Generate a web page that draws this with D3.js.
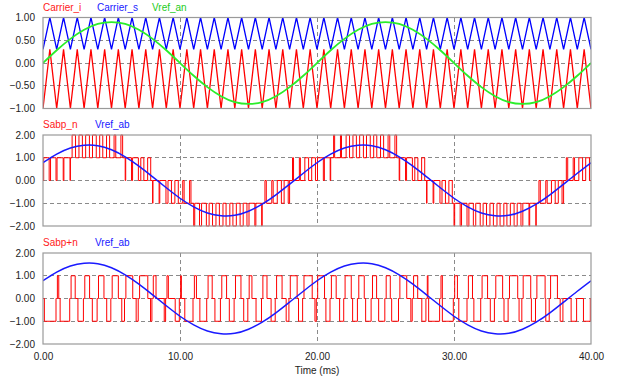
<!DOCTYPE html>
<html>
<head>
<meta charset="utf-8">
<script src="https://cdn.jsdelivr.net/npm/d3@7"></script>
<style>
  body { margin: 0; background: #fff; }
  text { font-family: "Liberation Sans", Arial, sans-serif; font-size: 10px; }
</style>
</head>
<body>
<svg id="chart" width="619" height="381"></svg>
<script>
// sample times (ms) for the reference sine waves
var timeMs = [0,1,2,3,4,5,6,7,8,9,10,11,12,13,14,15,16,17,18,19,20,
              21,22,23,24,25,26,27,28,29,30,31,32,33,34,35,36,37,38,39,40];
var vrefAn = [0,.28,.53,.73,.86,.9,.86,.73,.53,.28,0,-.28,-.53,-.73,-.86,-.9,-.86,-.73,-.53,-.28,
              0,.28,.53,.73,.86,.9,.86,.73,.53,.28,0,-.28,-.53,-.73,-.86,-.9,-.86,-.73,-.53,-.28,0];
var vrefAb = [.78,1.16,1.43,1.55,1.53,1.35,1.04,.63,.16,-.32,-.78,-1.16,-1.43,-1.55,-1.53,-1.35,-1.04,-.63,-.16,.32,
              .78,1.16,1.43,1.55,1.53,1.35,1.04,.63,.16,-.32,-.78,-1.16,-1.43,-1.55,-1.53,-1.35,-1.04,-.63,-.16,.32,.78];

// triangle carriers: [trough, peak], one period per ms
var carrierI = [-1, 0.3];
var carrierS = [0.3, 1];
var carrierPeriod = 1;

// Sabp_n : lower level of each 1 ms period and share of time spent one level higher
var sabpNLow  = [0,0,1,1,1,1,0,0,-1,-1, -1,-2,-2,-2,-2,-2,-1,-1,0,0,
                 0,1,1,1,1,1,0,0,-1,-1, -2,-2,-2,-2,-2,-2,-1,-1,0,0];
var sabpNDuty = [.8,.9,.5,.55,.45,.25,.85,.45,.9,.5, .2,.7,.5,.45,.55,.85,.2,.6,.15,.55,
                 .85,.15,.5,.55,.45,.25,.85,.45,.9,.5, .8,.65,.5,.45,.55,.9,.2,.55,.2,.55];

// Sabp+n : share of each period at +1 and at -1 (rest at 0)
var sabpPnPos = [0,.1,.3,.35,.4,.45,.5,.6,.2,.1, .05,.15,.3,.35,.4,.2,.3,.4,.5,.6,
                 .5,.35,.45,.4,.3,.3,.5,.3,.05,.1, .2,.3,.4,.5,.6,.55,.6,.5,0,0];
var sabpPnNeg = [.85,.7,.4,.35,.3,.2,.15,.1,.1,.3, .6,.5,.4,.35,.3,.4,.3,.2,.3,.1,
                 .3,.3,.35,.4,.45,.5,.1,.3,.8,.8, .6,.5,.3,.3,.2,.3,.25,.2,.4,.5];

var xTicks = [0, 10, 20, 30, 40];
var yTicks1 = [-1, -0.5, 0, 0.5, 1];
var yTicks2 = [-2, -1, 0, 1, 2];

var svg = d3.select("#chart");
var left = 43, right = 591;
var xScale = d3.scaleLinear().domain([0, 40]).range([left, right]);
var fmt = d3.format(".2f");

var panels = [
  {id: "p1", top: 17.5, bottom: 108.5, domain: [-1, 1], ticks: yTicks1},
  {id: "p2", top: 135, bottom: 226, domain: [-2, 2], ticks: yTicks2},
  {id: "p3", top: 253, bottom: 344, domain: [-2, 2], ticks: yTicks2}
];

panels.forEach(function(p) {
  p.y = d3.scaleLinear().domain(p.domain).range([p.bottom, p.top]);

  svg.append("clipPath").attr("id", "clip-" + p.id)
    .append("rect").attr("x", left).attr("y", p.top - 1)
    .attr("width", right - left).attr("height", p.bottom - p.top + 2);

  // dashed grid
  var grid = svg.append("g").attr("stroke", "#8a8a8a").attr("stroke-dasharray", "4,3")
    .attr("shape-rendering", "crispEdges");
  p.ticks.slice(1, -1).forEach(function(v) {
    grid.append("line").attr("x1", left).attr("x2", right)
      .attr("y1", p.y(v)).attr("y2", p.y(v));
  });
  xTicks.slice(1, -1).forEach(function(t) {
    grid.append("line").attr("x1", xScale(t)).attr("x2", xScale(t))
      .attr("y1", p.top).attr("y2", p.bottom);
  });

  var ax = svg.append("g").attr("transform", "translate(" + left + ",0)")
    .call(d3.axisLeft(p.y).tickValues(p.ticks).tickSize(0).tickPadding(8).tickFormat(fmt));
  ax.select(".domain").remove();
  ax.selectAll("text").attr("fill", "#222").style("font-family", '"Liberation Sans", Arial, sans-serif').style("font-size", "10px");

  p.g = svg.append("g").attr("clip-path", "url(#clip-" + p.id + ")");
});

function curvePath(vals, yS, curve) {
  return d3.line().x(function(d, i) { return xScale(timeMs[i]); })
    .y(function(d) { return yS(d); }).curve(curve)(vals);
}

// carriers
function carrierPoints(levels) {
  return d3.range(0, 40 / carrierPeriod * 2 + 1).map(function(i) {
    return [i * carrierPeriod / 2, levels[i % 2]];
  });
}
var p1 = panels[0], p2 = panels[1], p3 = panels[2];
var lineXY = function(yS, curve) {
  return d3.line().x(function(d) { return xScale(d[0]); }).y(function(d) { return yS(d[1]); }).curve(curve);
};

p1.g.append("path").attr("d", lineXY(p1.y, d3.curveLinear)(carrierPoints(carrierI)))
  .attr("fill", "none").attr("stroke", "#ff0000").attr("stroke-width", 1.3);
p1.g.append("path").attr("d", lineXY(p1.y, d3.curveLinear)(carrierPoints(carrierS)))
  .attr("fill", "none").attr("stroke", "#0000ff").attr("stroke-width", 1.3);
p1.g.append("path").attr("d", curvePath(vrefAn, p1.y, d3.curveNatural))
  .attr("fill", "none").attr("stroke", "#2aee2a").attr("stroke-width", 1.8);

// Sabp_n step trace
var stepsN = [];
sabpNLow.forEach(function(lo, k) {
  var w = sabpNDuty[k] / 2;
  stepsN.push([k, lo], [k + 0.25 - w / 2, lo + 1], [k + 0.25 + w / 2, lo],
              [k + 0.75 - w / 2, lo + 1], [k + 0.75 + w / 2, lo]);
});
stepsN.push([40, stepsN[stepsN.length - 1][1]]);
p2.g.append("path").attr("d", lineXY(p2.y, d3.curveStepAfter)(stepsN))
  .attr("fill", "none").attr("stroke", "#ff0000").attr("stroke-width", 1);
p2.g.append("path").attr("d", curvePath(vrefAb, p2.y, d3.curveNatural))
  .attr("fill", "none").attr("stroke", "#1a1aff").attr("stroke-width", 1.5);

// Sabp+n step trace
var stepsPn = [];
sabpPnPos.forEach(function(dp, k) {
  var dn = sabpPnNeg[k];
  stepsPn.push([k, 0]);
  if (dp > 0) stepsPn.push([k + 0.05, 1], [k + 0.05 + dp, 0]);
  if (dn > 0) stepsPn.push([k + 0.95 - dn, -1], [k + 0.95, 0]);
});
stepsPn.push([40, 0]);
p3.g.append("path").attr("d", lineXY(p3.y, d3.curveStepAfter)(stepsPn))
  .attr("fill", "none").attr("stroke", "#ff0000").attr("stroke-width", 1);
p3.g.append("path").attr("d", curvePath(vrefAb, p3.y, d3.curveNatural))
  .attr("fill", "none").attr("stroke", "#1a1aff").attr("stroke-width", 1.5);

// frames
panels.forEach(function(p) {
  svg.append("rect").attr("x", left).attr("y", p.top).attr("width", right - left)
    .attr("height", p.bottom - p.top).attr("fill", "none")
    .attr("stroke", "#9a9a9a").attr("stroke-width", 1.2);
});

// x axis
var xa = svg.append("g").attr("transform", "translate(0," + p3.bottom + ")")
  .call(d3.axisBottom(xScale).tickValues(xTicks).tickSize(0).tickPadding(9).tickFormat(fmt));
xa.select(".domain").remove();
xa.selectAll("text").attr("fill", "#222").style("font-family", '"Liberation Sans", Arial, sans-serif').style("font-size", "10px");

svg.append("text").attr("x", 317).attr("y", 374).attr("text-anchor", "middle")
  .attr("fill", "#222").text("Time (ms)");

// legends
var legends = [
  {x: 43, y: 11, text: "Carrier_i", color: "#ff2020"},
  {x: 97, y: 11, text: "Carrier_s", color: "#2020ff"},
  {x: 152, y: 11, text: "Vref_an", color: "#22cc22"},
  {x: 43, y: 128, text: "Sabp_n", color: "#ff2020"},
  {x: 95, y: 128, text: "Vref_ab", color: "#2020ff"},
  {x: 43, y: 246, text: "Sabp+n", color: "#ff2020"},
  {x: 95, y: 246, text: "Vref_ab", color: "#2020ff"}
];
legends.forEach(function(l) {
  svg.append("text").attr("x", l.x).attr("y", l.y).attr("fill", l.color).text(l.text);
});
</script>
</body>
</html>
